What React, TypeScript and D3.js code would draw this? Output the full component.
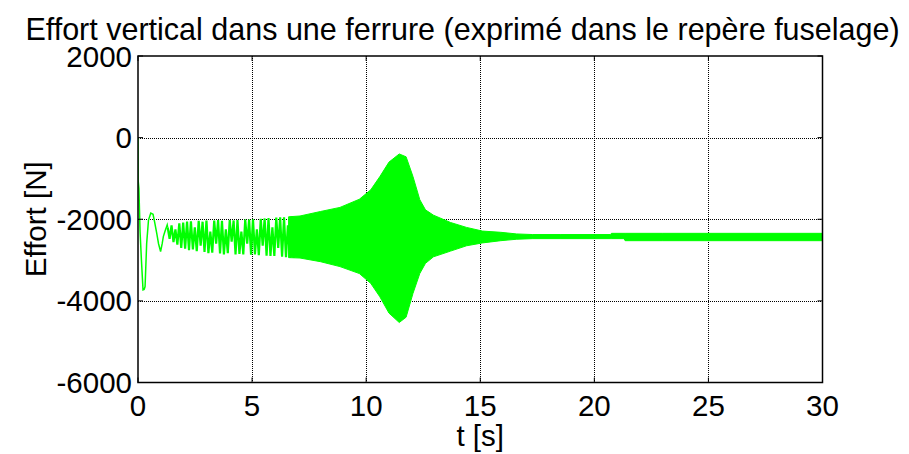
import React, { useEffect, useRef } from "react";
import * as d3 from "d3";

const title = "Effort vertical dans une ferrure (exprimé dans le repère fuselage)";
const xLabel = "t [s]";
const yLabel = "Effort [N]";
const xTicks = [0, 5, 10, 15, 20, 25, 30];
const yTicks = [-6000, -4000, -2000, 0, 2000];

// initial transient (t in s, effort in N)
const transientT = [0, 0.005, 0.04, 0.09, 0.15, 0.22, 0.27, 0.31, 0.38, 0.46, 0.56, 0.66, 0.74, 0.82, 0.9, 0.99, 1.06, 1.11, 1.18, 1.28, 1.3];
const transientV = [0, -1040, -1250, -2300, -3000, -3730, -3720, -3650, -2590, -2020, -1850, -1880, -2100, -2340, -2600, -2790, -2600, -2425, -2300, -2140, -2200];

// visible oscillation peaks and troughs (1.3 s – 6.8 s)
const oscT = [1.3, 1.385, 1.47, 1.555, 1.64, 1.725, 1.81, 1.895, 1.98, 2.065, 2.15, 2.235, 2.32, 2.405, 2.49, 2.575, 2.66, 2.745, 2.83, 2.915, 3.0, 3.085, 3.17, 3.255, 3.34, 3.425, 3.51, 3.595, 3.68, 3.765, 3.85, 3.935, 4.02, 4.105, 4.19, 4.275, 4.36, 4.445, 4.53, 4.615, 4.7, 4.785, 4.87, 4.955, 5.04, 5.125, 5.21, 5.295, 5.38, 5.465, 5.55, 5.635, 5.72, 5.805, 5.89, 5.975, 6.06, 6.145, 6.23, 6.315, 6.4, 6.485, 6.57, 6.655, 6.74, 6.825];
const oscV = [-2200, -2480, -2150, -2560, -2250, -2620, -2100, -2700, -2080, -2720, -2060, -2760, -2050, -2740, -2200, -2780, -2040, -2650, -2060, -2800, -2030, -2830, -2300, -2820, -2030, -2600, -2020, -2840, -2040, -2860, -2250, -2830, -2020, -2550, -2030, -2860, -2020, -2850, -2300, -2860, -2010, -2600, -2010, -2870, -2000, -2860, -2250, -2880, -1990, -2650, -1980, -2890, -1970, -2900, -2200, -2900, -1960, -2700, -1950, -2920, -1950, -2930, -2150, -2940, -1930, -2950];

// dense oscillation envelope (6.6 s – 30 s)
const bandT = [6.6, 7.1, 8.0, 8.85, 9.7, 10.2, 10.6, 11.0, 11.45, 11.75, 12.05, 12.35, 12.6, 12.95, 13.7, 14.4, 15.1, 15.9, 16.6, 17.3, 18.5, 20.0, 20.7, 20.75, 21.3, 21.35, 23, 25, 27, 30];
const bandUpper = [-1940, -1920, -1810, -1710, -1510, -1280, -955, -600, -400, -470, -950, -1520, -1770, -1900, -2080, -2200, -2290, -2320, -2360, -2375, -2375, -2375, -2375, -2345, -2345, -2345, -2345, -2345, -2345, -2345];
const bandLower = [-2940, -2950, -3040, -3160, -3330, -3570, -3900, -4300, -4530, -4400, -3820, -3330, -3080, -2920, -2780, -2650, -2580, -2525, -2490, -2475, -2475, -2475, -2475, -2475, -2475, -2525, -2525, -2525, -2525, -2525];

const W = 909;
const H = 454;
const M = { left: 138, right: 86.5, top: 56, bottom: 71.5 };
const FONT = "'Liberation Sans', Arial, Helvetica, sans-serif";
const GREEN = "#00ff00";
const FS = 29.5;

export default function App() {
  const ref = useRef<SVGSVGElement | null>(null);

  useEffect(() => {
    const svg = d3.select(ref.current);
    svg.selectAll("*").remove();
    const x0 = M.left, x1 = W - M.right, y0 = M.top, y1 = H - M.bottom;
    const x = d3.scaleLinear().domain([0, 30]).range([x0, x1]);
    const y = d3.scaleLinear().domain([-6000, 2000]).range([y1, y0]);

    svg.append("rect").attr("width", W).attr("height", H).attr("fill", "#fff");

    // grid
    const grid = svg.append("g").attr("stroke", "#000").attr("stroke-width", 1).attr("stroke-dasharray", "1,1").attr("shape-rendering", "crispEdges");
    xTicks.slice(1, -1).forEach((t) => {
      grid.append("line").attr("x1", Math.round(x(t)) + 0.5).attr("x2", Math.round(x(t)) + 0.5).attr("y1", y0).attr("y2", y1);
    });
    yTicks.slice(1, -1).forEach((v) => {
      grid.append("line").attr("y1", Math.round(y(v)) + 0.5).attr("y2", Math.round(y(v)) + 0.5).attr("x1", x0).attr("x2", x1);
    });

    // data
    const clip = svg.append("clipPath").attr("id", "plotclip");
    clip.append("rect").attr("x", x0).attr("y", y0).attr("width", x1 - x0).attr("height", y1 - y0);
    const plot = svg.append("g").attr("clip-path", "url(#plotclip)");

    const bandData = bandT.map((t, i) => ({ t, u: bandUpper[i], l: bandLower[i] }));
    const area = d3.area<{ t: number; u: number; l: number }>()
      .x((d) => x(d.t)).y0((d) => y(d.l)).y1((d) => y(d.u));
    plot.append("path").attr("d", area(bandData) as string).attr("fill", GREEN).attr("stroke", GREEN).attr("stroke-width", 1);

    const line = d3.line<[number, number]>().x((d) => x(d[0])).y((d) => y(d[1]));
    const trans: [number, number][] = transientT.map((t, i) => [t, transientV[i]]);
    const osc: [number, number][] = oscT.map((t, i) => [t, oscV[i]]);
    plot.append("path").attr("d", line(trans) as string).attr("fill", "none").attr("stroke", GREEN).attr("stroke-width", 1.5);
    plot.append("path").attr("d", line(osc) as string).attr("fill", "none").attr("stroke", GREEN).attr("stroke-width", 2.2);

    // box
    svg.append("rect").attr("x", x0).attr("y", y0).attr("width", x1 - x0).attr("height", y1 - y0)
      .attr("fill", "none").attr("stroke", "#000").attr("stroke-width", 1.5);

    // ticks
    const tk = svg.append("g").attr("stroke", "#000").attr("stroke-width", 1);
    xTicks.forEach((t) => {
      tk.append("line").attr("x1", x(t)).attr("x2", x(t)).attr("y1", y1).attr("y2", y1 - 5);
      tk.append("line").attr("x1", x(t)).attr("x2", x(t)).attr("y1", y0).attr("y2", y0 + 5);
    });
    yTicks.forEach((v) => {
      tk.append("line").attr("y1", y(v)).attr("y2", y(v)).attr("x1", x0).attr("x2", x0 + 5);
      tk.append("line").attr("y1", y(v)).attr("y2", y(v)).attr("x1", x1).attr("x2", x1 - 5);
    });

    const txt = svg.append("g").attr("font-family", FONT).attr("fill", "#000");
    xTicks.forEach((t) => {
      txt.append("text").attr("x", x(t)).attr("y", y1 + 33.5).attr("text-anchor", "middle").attr("font-size", FS).text(String(t));
    });
    yTicks.forEach((v) => {
      txt.append("text").attr("x", x0 - 6).attr("y", y(v) + 10.5).attr("text-anchor", "end").attr("font-size", FS).text(String(v));
    });
    txt.append("text").attr("x", (x0 + x1) / 2).attr("y", 446).attr("text-anchor", "middle").attr("font-size", FS).text(xLabel);
    txt.append("text").attr("transform", `translate(46,${(y0 + y1) / 2}) rotate(-90)`).attr("text-anchor", "middle").attr("font-size", FS).text(yLabel);
    txt.append("text").attr("x", 462.5).attr("y", 40).attr("text-anchor", "middle").attr("font-size", 30.5).text(title);
  }, []);

  return (
    <svg ref={ref} width={W} height={H} style={{ position: "absolute", left: 0, top: 0, display: "block" }} />
  );
}
